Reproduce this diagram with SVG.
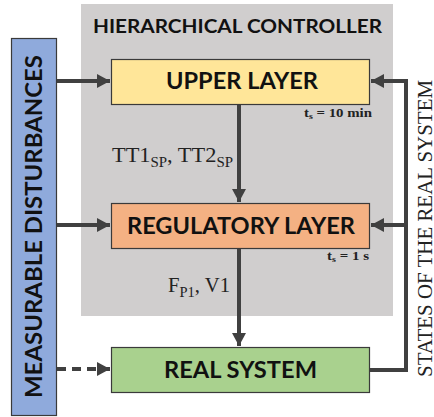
<svg xmlns="http://www.w3.org/2000/svg" width="434" height="417" viewBox="0 0 434 417">
<style>
.box{stroke:#3a3a3a;stroke-width:1.2}
.lbl{font-family:Lato,"Open Sans","Liberation Sans",sans-serif;font-weight:bold;fill:#111;text-anchor:middle}
.ser{font-family:"Liberation Serif","DejaVu Serif",serif;fill:#222}
.ln{stroke:#404040;stroke-width:4;fill:none}
</style>
<defs>
<marker id="ah" markerUnits="userSpaceOnUse" markerWidth="14" markerHeight="14" refX="13" refY="7" orient="auto">
<path d="M0,0 L13,7 L0,14 Z" fill="#404040"/>
</marker>
</defs>
<rect x="0" y="0" width="434" height="417" fill="#fff"/>
<g id="controller">
<rect x="81" y="4" width="312" height="312" fill="#d0cece"/>
<text class="lbl" x="237.5" y="33" font-size="19.5" fill="#222" textLength="289" lengthAdjust="spacingAndGlyphs">HIERARCHICAL CONTROLLER</text>
</g>
<g id="upper">
<rect class="box" x="111.5" y="59.5" width="258" height="45" fill="#ffe699"/>
<text class="lbl" x="242" y="89" font-size="22" textLength="152" lengthAdjust="spacingAndGlyphs">UPPER LAYER</text>
<text class="ser" x="304" y="117" font-size="12" font-weight="bold" textLength="68" lengthAdjust="spacingAndGlyphs">t<tspan font-size="8" dy="2">s</tspan><tspan dy="-2"> = 10 min</tspan></text>
</g>
<g id="regulatory">
<rect class="box" x="111.5" y="203.5" width="258" height="45" fill="#f4b183"/>
<text class="lbl" x="241" y="234" font-size="22" textLength="228" lengthAdjust="spacingAndGlyphs">REGULATORY LAYER</text>
<text class="ser" x="327" y="260" font-size="12" font-weight="bold" textLength="42" lengthAdjust="spacingAndGlyphs">t<tspan font-size="8" dy="2">s</tspan><tspan dy="-2"> = 1 s</tspan></text>
</g>
<g id="real">
<rect class="box" x="111.5" y="347.5" width="258" height="45" fill="#a9d18e"/>
<text class="lbl" x="240.5" y="378" font-size="22" textLength="153" lengthAdjust="spacingAndGlyphs">REAL SYSTEM</text>
</g>
<g id="disturbances">
<rect class="box" x="11.5" y="38.5" width="45" height="377" fill="#8faadc"/>
<text class="lbl" transform="translate(42,226.5) rotate(-90)" font-size="23" textLength="343" lengthAdjust="spacingAndGlyphs">MEASURABLE DISTURBANCES</text>
</g>
<g id="states">
<text class="ser" transform="translate(431.5,228.5) rotate(-90)" font-size="20" text-anchor="middle" textLength="297" lengthAdjust="spacingAndGlyphs">STATES OF THE REAL SYSTEM</text>
</g>
<g id="connectors">
<line class="ln" x1="57" y1="81" x2="110" y2="81" marker-end="url(#ah)"/>
<line class="ln" x1="57" y1="225" x2="110" y2="225" marker-end="url(#ah)"/>
<line class="ln" x1="57" y1="369" x2="110" y2="369" stroke-dasharray="9,6" marker-end="url(#ah)"/>
<line class="ln" x1="239" y1="105" x2="239" y2="202" marker-end="url(#ah)"/>
<line class="ln" x1="239" y1="249" x2="239" y2="346" marker-end="url(#ah)"/>
<polyline class="ln" points="370,370 406,370 406,81 371,81" marker-end="url(#ah)"/>
<line class="ln" x1="406" y1="225" x2="371" y2="225" marker-end="url(#ah)"/>
</g>
<g id="labels">
<text class="ser" x="112" y="162" font-size="21" textLength="121" lengthAdjust="spacingAndGlyphs">TT1<tspan font-size="14" dy="5">SP</tspan><tspan dy="-5">, TT2</tspan><tspan font-size="14" dy="5">SP</tspan></text>
<text class="ser" x="168" y="292" font-size="20" textLength="62" lengthAdjust="spacingAndGlyphs">F<tspan font-size="14" dy="5">P1</tspan><tspan dy="-5">, V1</tspan></text>
</g>
</svg>
